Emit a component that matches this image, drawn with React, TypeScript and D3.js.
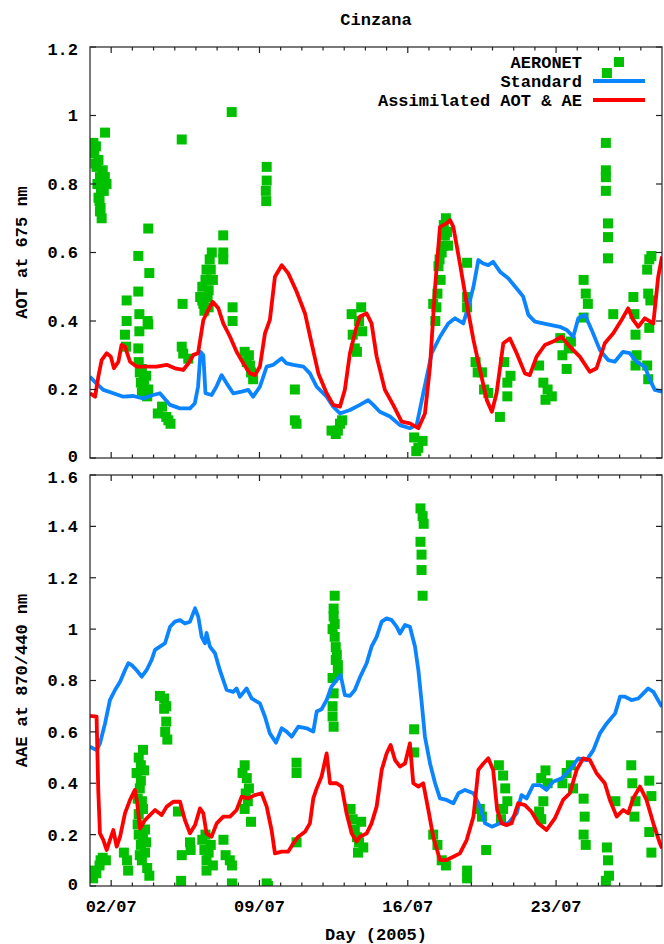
import React from "react";
import * as d3 from "d3";

const TITLE = "Cinzana";
const X_LABEL = "Day (2005)";
const Y_LABEL_TOP = "AOT at 675 nm";
const Y_LABEL_BOTTOM = "AAE at 870/440 nm";
const SERIES_NAMES = ["AERONET", "Standard", "Assimilated AOT & AE"];

const X_MAJOR_DAYS = [2, 9, 16, 23];
const X_TICK_LABELS = ["02/07", "09/07", "16/07", "23/07"];
const TOP_Y_TICKS = [0, 0.2, 0.4, 0.6, 0.8, 1, 1.2];
const BOTTOM_Y_TICKS = [0, 0.2, 0.4, 0.6, 0.8, 1, 1.2, 1.4, 1.6];

// [day of July, value]
const aotStandard: [number, number][] = [
  [1.0,0.237],[1.3,0.218],[1.63,0.199],[2.1,0.189],[2.57,0.179],[3.04,0.181],[3.5,0.174],[3.99,0.184],[4.3,0.189],[4.78,0.155],[5.25,0.145],[5.72,0.145],[5.95,0.16],[6.1,0.208],[6.22,0.31],[6.35,0.30],[6.45,0.189],[6.74,0.184],[6.98,0.21],[7.21,0.242],[7.45,0.218],[7.76,0.189],[8.16,0.194],[8.47,0.199],[8.7,0.179],[9.02,0.208],[9.34,0.267],[9.65,0.272],[10.05,0.291],[10.28,0.276],[10.6,0.272],[11.07,0.267],[11.38,0.247],[11.7,0.208],[12.17,0.179],[12.48,0.15],[12.8,0.13],[13.27,0.14],[13.74,0.155],[14.13,0.169],[14.37,0.155],[14.68,0.135],[15.16,0.121],[15.63,0.096],[16.1,0.087],[16.42,0.096],[16.73,0.189],[17.13,0.306],[17.52,0.354],[17.91,0.393],[18.23,0.408],[18.62,0.393],[18.86,0.442],[19.1,0.5],[19.33,0.578],[19.56,0.568],[19.8,0.563],[20.03,0.573],[20.35,0.544],[20.74,0.525],[21.14,0.495],[21.45,0.471],[21.69,0.418],[22.0,0.398],[22.55,0.391],[23.18,0.383],[23.5,0.374],[23.81,0.354],[24.05,0.408],[24.36,0.418],[24.68,0.374],[25.07,0.315],[25.46,0.286],[25.77,0.281],[26.16,0.31],[26.48,0.306],[26.79,0.281],[27.19,0.267],[27.43,0.228],[27.66,0.199],[28.0,0.194]
];

const aotAssimilated: [number, number][] = [
  [1.0,0.189],[1.24,0.179],[1.4,0.24],[1.55,0.286],[1.79,0.306],[1.98,0.296],[2.13,0.262],[2.34,0.281],[2.49,0.33],[2.65,0.325],[2.89,0.281],[3.2,0.267],[3.67,0.267],[4.15,0.267],[4.62,0.272],[5.01,0.262],[5.4,0.257],[5.64,0.276],[5.88,0.301],[6.1,0.306],[6.35,0.403],[6.58,0.432],[6.79,0.456],[7.06,0.437],[7.29,0.393],[7.61,0.354],[7.92,0.31],[8.24,0.276],[8.55,0.247],[8.79,0.242],[9.02,0.267],[9.26,0.364],[9.49,0.403],[9.73,0.529],[10.05,0.563],[10.36,0.539],[10.75,0.486],[11.15,0.422],[11.46,0.335],[11.78,0.247],[12.17,0.189],[12.48,0.155],[12.8,0.15],[13.03,0.199],[13.27,0.306],[13.58,0.383],[13.74,0.413],[14.06,0.422],[14.29,0.393],[14.53,0.296],[14.92,0.199],[15.31,0.155],[15.71,0.106],[16.1,0.101],[16.5,0.087],[16.81,0.13],[17.05,0.267],[17.29,0.5],[17.52,0.675],[17.83,0.685],[17.99,0.695],[18.15,0.675],[18.46,0.568],[18.78,0.452],[19.1,0.345],[19.41,0.257],[19.73,0.169],[19.97,0.135],[20.19,0.189],[20.51,0.335],[20.82,0.349],[21.14,0.306],[21.53,0.247],[21.76,0.242],[22.08,0.296],[22.47,0.33],[22.86,0.34],[23.26,0.354],[23.65,0.325],[24.12,0.296],[24.59,0.252],[24.91,0.262],[25.3,0.335],[25.7,0.364],[26.09,0.403],[26.4,0.437],[26.64,0.403],[26.88,0.383],[27.19,0.408],[27.59,0.393],[27.82,0.529],[28.0,0.588]
];

const aotAeronet: [number, number][] = [
  [1.16,0.92],[1.2,0.89],[1.31,0.85],[1.28,0.91],[1.4,0.87],[1.47,0.82],[1.52,0.78],[1.45,0.75],[1.47,0.72],[1.71,0.95],[1.78,0.8],[1.6,0.84],
  [1.25,0.86],[1.35,0.8],[1.4,0.76],[1.5,0.73],[1.55,0.7],[1.65,0.78],[1.7,0.82],[1.1,0.9],
  [2.73,0.46],[2.73,0.4],[2.65,0.36],[2.7,0.325],
  [3.28,0.59],[3.28,0.486],[3.75,0.67],[3.8,0.54],[3.33,0.42],[3.75,0.39],[3.33,0.37],[3.28,0.32],[3.35,0.25],[3.4,0.22],[3.45,0.19],[3.6,0.2],[3.7,0.18],[3.55,0.23],[3.72,0.4],
  [3.3,0.28],[3.5,0.21],[3.65,0.24],[3.75,0.2],[3.45,0.26],
  [4.2,0.13],[4.4,0.15],[4.6,0.12],[4.8,0.1],[4.7,0.11],
  [5.33,0.93],[5.37,0.45],[5.33,0.325],[5.4,0.305],[5.64,0.29],
  [6.2,0.47],[6.3,0.5],[6.35,0.45],[6.5,0.55],[6.65,0.58],[6.75,0.6],[6.8,0.52],[6.6,0.49],[6.4,0.43],
  [6.45,0.52],[6.55,0.47],[6.7,0.55],[6.6,0.44],[6.3,0.46],
  [7.29,0.65],[7.29,0.58],[7.29,0.6],[7.73,0.44],[7.73,0.4],[7.69,1.01],
  [8.3,0.31],[8.4,0.28],[8.5,0.3],[8.6,0.25],[8.7,0.23],[8.55,0.27],
  [9.34,0.85],[9.34,0.81],[9.3,0.78],[9.32,0.75],
  [10.67,0.2],[10.67,0.11],[10.75,0.1],
  [12.4,0.08],[12.6,0.07],[12.8,0.1],[12.9,0.11],[12.7,0.08],
  [13.35,0.42],[13.4,0.36],[13.5,0.32],[13.6,0.31],[13.7,0.4],[13.8,0.44],[13.85,0.37],
  [16.3,0.06],[16.5,0.03],[16.7,0.05],[16.4,0.02],
  [17.2,0.45],[17.3,0.4],[17.4,0.48],[17.45,0.56],[17.55,0.52],[17.6,0.6],[17.75,0.65],[17.8,0.7],[17.9,0.62],[17.7,0.68],
  [17.35,0.44],[17.5,0.58],[17.65,0.62],[17.85,0.66],
  [18.8,0.57],[18.8,0.47],[18.8,0.44],
  [19.2,0.28],[19.3,0.25],[19.5,0.25],[19.6,0.2],[19.8,0.19],
  [20.35,0.12],[20.55,0.28],[20.7,0.22],[20.85,0.24],[20.7,0.18],
  [22.2,0.27],[22.4,0.22],[22.6,0.2],[22.8,0.18],[22.5,0.17],
  [23.2,0.35],[23.3,0.3],[23.5,0.26],[23.6,0.32],[23.7,0.34],
  [24.3,0.52],[24.4,0.48],[24.5,0.45],[24.3,0.41],
  [25.35,0.92],[25.35,0.84],[25.35,0.82],[25.35,0.78],[25.45,0.685],[25.45,0.645],[25.45,0.583],[25.4,1.124],[25.7,0.42],
  [26.65,0.47],[26.7,0.42],[26.75,0.36],[26.8,0.3],[26.75,0.27],
  [27.3,0.55],[27.4,0.58],[27.5,0.59],[27.35,0.48],[27.4,0.38],[27.3,0.27],[27.35,0.23],[27.45,0.46]
];

const aaeStandard: [number, number][] = [
  [1.0,0.542],[1.31,0.529],[1.47,0.555],[1.71,0.633],[1.94,0.724],[2.18,0.763],[2.42,0.795],[2.65,0.84],[2.81,0.867],[2.97,0.86],[3.2,0.84],[3.44,0.815],[3.67,0.84],[3.91,0.88],[4.07,0.919],[4.3,0.932],[4.54,0.945],[4.78,1.009],[5.01,1.029],[5.25,1.035],[5.48,1.022],[5.72,1.029],[5.96,1.081],[6.11,1.048],[6.27,0.97],[6.43,0.945],[6.5,0.985],[6.66,0.932],[6.9,0.906],[7.13,0.84],[7.45,0.763],[7.76,0.756],[7.92,0.769],[8.08,0.737],[8.39,0.769],[8.63,0.73],[9.02,0.711],[9.26,0.659],[9.49,0.594],[9.78,0.558],[10.05,0.614],[10.28,0.601],[10.52,0.581],[10.83,0.62],[11.23,0.614],[11.54,0.601],[11.7,0.679],[11.93,0.688],[12.17,0.724],[12.4,0.776],[12.64,0.802],[12.83,0.821],[13.03,0.743],[13.27,0.74],[13.5,0.763],[13.74,0.812],[14.06,0.867],[14.29,0.932],[14.53,0.97],[14.77,1.029],[15.0,1.042],[15.24,1.035],[15.48,1.009],[15.63,0.983],[15.87,1.016],[16.1,1.009],[16.34,0.932],[16.5,0.84],[16.66,0.711],[16.81,0.581],[17.05,0.477],[17.29,0.4],[17.52,0.341],[17.83,0.335],[18.15,0.322],[18.39,0.361],[18.7,0.374],[19.1,0.361],[19.41,0.309],[19.65,0.244],[19.97,0.231],[20.35,0.244],[20.74,0.244],[21.14,0.283],[21.37,0.354],[21.61,0.341],[21.92,0.393],[22.24,0.393],[22.55,0.374],[22.86,0.406],[23.26,0.419],[23.65,0.452],[24.05,0.497],[24.44,0.49],[24.76,0.529],[25.07,0.594],[25.39,0.633],[25.79,0.672],[26.02,0.737],[26.25,0.737],[26.56,0.724],[26.88,0.73],[27.12,0.75],[27.35,0.769],[27.59,0.756],[27.9,0.711],[28.0,0.698]
];

const aaeAssimilated: [number, number][] = [
  [1.0,0.662],[1.31,0.659],[1.39,0.374],[1.47,0.205],[1.63,0.179],[1.79,0.14],[1.94,0.179],[2.1,0.218],[2.26,0.153],[2.42,0.192],[2.65,0.283],[2.89,0.335],[3.12,0.374],[3.23,0.322],[3.36,0.224],[3.6,0.257],[3.83,0.276],[4.07,0.296],[4.38,0.276],[4.62,0.309],[4.93,0.328],[5.25,0.328],[5.48,0.257],[5.72,0.205],[5.96,0.237],[6.19,0.302],[6.35,0.283],[6.5,0.205],[6.74,0.192],[6.98,0.244],[7.29,0.27],[7.61,0.27],[7.92,0.296],[8.16,0.348],[8.47,0.341],[8.79,0.354],[9.1,0.361],[9.34,0.309],[9.57,0.218],[9.73,0.127],[10.05,0.134],[10.36,0.134],[10.6,0.166],[10.83,0.192],[11.15,0.211],[11.38,0.244],[11.54,0.341],[11.7,0.38],[11.93,0.426],[12.17,0.516],[12.33,0.4],[12.64,0.4],[12.88,0.387],[13.11,0.283],[13.35,0.205],[13.58,0.173],[13.74,0.192],[14.06,0.205],[14.29,0.244],[14.53,0.309],[14.77,0.452],[15.0,0.516],[15.19,0.549],[15.4,0.49],[15.63,0.465],[15.87,0.477],[16.1,0.555],[16.26,0.4],[16.5,0.387],[16.73,0.4],[16.97,0.296],[17.2,0.192],[17.52,0.101],[17.83,0.101],[18.15,0.114],[18.46,0.127],[18.78,0.179],[19.1,0.27],[19.33,0.452],[19.57,0.477],[19.8,0.497],[20.03,0.452],[20.22,0.296],[20.43,0.244],[20.66,0.237],[20.9,0.244],[21.21,0.322],[21.53,0.315],[21.84,0.289],[22.16,0.244],[22.55,0.218],[22.94,0.263],[23.33,0.335],[23.65,0.361],[23.97,0.452],[24.28,0.497],[24.6,0.49],[24.91,0.439],[25.3,0.4],[25.54,0.335],[25.86,0.27],[26.17,0.296],[26.4,0.283],[26.64,0.341],[26.96,0.387],[27.27,0.335],[27.59,0.244],[27.9,0.166],[28.0,0.147]
];

const aaeAeronet: [number, number][] = [
  [1.15,0.03],[1.3,0.05],[1.45,0.08],[1.6,0.11],[1.75,0.1],[1.2,0.06],[1.5,0.1],
  [2.6,0.13],[2.75,0.1],[2.8,0.06],
  [3.2,0.44],[3.3,0.5],[3.4,0.47],[3.5,0.53],[3.35,0.38],[3.45,0.33],[3.3,0.28],[3.25,0.24],[3.3,0.2],[3.4,0.16],[3.5,0.19],[3.6,0.13],[3.7,0.07],[3.8,0.04],[3.45,0.1],[3.6,0.22],[3.5,0.3],
  [3.25,0.34],[3.4,0.41],[3.55,0.45],[3.35,0.12],[3.65,0.17],
  [4.3,0.74],[4.5,0.73],[4.5,0.69],[4.6,0.64],[4.55,0.6],[4.65,0.57],[4.6,0.7],
  [5.15,0.29],[5.33,0.12],[5.3,0.02],[5.72,0.17],[5.75,0.14],
  [6.3,0.18],[6.4,0.14],[6.5,0.1],[6.6,0.13],[6.7,0.16],[6.8,0.08],[6.5,0.06],[6.45,0.2],
  [7.3,0.18],[7.4,0.12],[7.6,0.1],[7.7,0.08],[7.7,0.01],
  [8.2,0.44],[8.3,0.47],[8.4,0.42],[8.5,0.38],[8.45,0.33],[8.3,0.3],[8.6,0.25],[8.35,0.36],
  [9.34,0.01],[9.4,0.0],
  [10.75,0.48],[10.75,0.44],[10.75,0.17],
  [12.55,1.13],[12.5,1.08],[12.5,1.05],[12.45,1.0],[12.55,0.97],[12.6,0.93],[12.65,0.9],[12.7,0.86],[12.7,0.83],[12.45,0.81],[12.45,0.7],[12.45,0.66],[12.5,0.62],
  [12.5,0.75],[12.6,0.88],[12.55,1.02],
  [13.3,0.3],[13.4,0.26],[13.5,0.22],[13.6,0.19],[13.7,0.17],[13.65,0.13],[13.8,0.25],[13.9,0.15],
  [16.6,1.47],[16.7,1.44],[16.75,1.41],[16.6,1.34],[16.65,1.29],[16.65,1.23],[16.7,1.13],[16.3,0.61],[16.3,0.52],
  [17.2,0.2],[17.4,0.16],[17.6,0.1],[17.8,0.08],
  [18.8,0.06],[18.8,0.03],
  [19.4,0.3],[19.5,0.27],[19.7,0.14],
  [20.3,0.47],[20.5,0.43],[20.6,0.38],[20.7,0.33],[20.5,0.3],[20.4,0.26],
  [22.3,0.42],[22.5,0.45],[22.6,0.4],[22.4,0.33],[22.2,0.29],[22.3,0.26],
  [23.3,0.4],[23.5,0.44],[23.7,0.47],[23.8,0.38],
  [24.3,0.34],[24.35,0.27],[24.3,0.2],[24.4,0.16],
  [25.4,0.15],[25.45,0.1],[25.5,0.04],[25.35,0.02],[25.8,0.33],
  [26.55,0.47],[26.6,0.4],[26.75,0.33],[26.7,0.27],
  [27.4,0.41],[27.5,0.35],[27.4,0.21],[27.5,0.13]
];

const GREEN = "#00c000";
const BLUE = "#0a84ff";
const RED = "#ff0000";
const FONT = "'Liberation Mono', 'DejaVu Sans Mono', monospace";
const FS = 17;

const LEFT = 90;
const RIGHT = 662;
const TOP_PANEL = { top: 47, bottom: 458 };
const BOTTOM_PANEL = { top: 475, bottom: 886 };

const x = d3.scaleLinear().domain([1, 28]).range([LEFT, RIGHT]);
const allDays = d3.range(2, 28);

function Panel({ top, bottom, yMax, yTicks, aeronet, standard, assimilated, id, label, showXLabels, labelShift }: any) {
  const y = d3.scaleLinear().domain([0, yMax]).range([bottom, top]);
  const line = d3.line<[number, number]>().x((d) => x(d[0])).y((d) => y(d[1]));
  const sq = 10;
  return (
    <g>
      <defs>
        <clipPath id={id}>
          <rect x={LEFT} y={top} width={RIGHT - LEFT} height={bottom - top} />
        </clipPath>
      </defs>
      <g clipPath={`url(#${id})`}>
        {aeronet.map((d: [number, number], i: number) => (
          <rect key={i} x={x(d[0]) - sq / 2} y={y(d[1]) - sq / 2} width={sq} height={sq} fill={GREEN} />
        ))}
        <path d={line(standard) || ""} fill="none" stroke={BLUE} strokeWidth={3.8} strokeLinejoin="round" />
        <path d={line(assimilated) || ""} fill="none" stroke={RED} strokeWidth={3.8} strokeLinejoin="round" />
      </g>
      <rect x={LEFT} y={top} width={RIGHT - LEFT} height={bottom - top} fill="none" stroke="#222" strokeWidth={1.2} />
      {allDays.map((d) => {
        const major = X_MAJOR_DAYS.includes(d);
        const len = major ? 6 : 3.5;
        return (
          <g key={d} stroke="#222" strokeWidth={1.2}>
            <line x1={x(d)} x2={x(d)} y1={bottom} y2={bottom - len} />
            <line x1={x(d)} x2={x(d)} y1={top} y2={top + len} />
          </g>
        );
      })}
      {yTicks.map((t: number) => (
        <g key={t}>
          <line x1={LEFT} x2={LEFT + 6} y1={y(t)} y2={y(t)} stroke="#222" strokeWidth={1.2} />
          <line x1={RIGHT} x2={RIGHT - 6} y1={y(t)} y2={y(t)} stroke="#222" strokeWidth={1.2} />
          <text
            x={78}
            y={y(t) + (t === 0 ? -labelShift : t === yMax ? labelShift : 0)}
            dy="0.35em"
            textAnchor="end"
            fontFamily={FONT}
            fontWeight="bold"
            fontSize={FS}
          >
            {String(t)}
          </text>
        </g>
      ))}
      <text
        transform={`translate(21, ${(top + bottom) / 2}) rotate(-90)`}
        textAnchor="middle"
        dy="0.35em"
        fontFamily={FONT}
        fontWeight="bold"
        fontSize={FS}
      >
        {label}
      </text>
      {showXLabels &&
        X_MAJOR_DAYS.map((d, i) => (
          <text key={d} x={x(d)} y={bottom + 20} dy="0.35em" textAnchor="middle" fontFamily={FONT} fontWeight="bold" fontSize={FS}>
            {X_TICK_LABELS[i]}
          </text>
        ))}
    </g>
  );
}

export default function App() {
  const legendRows = [62, 81, 100];
  return (
    <svg width={664} height={944} style={{ position: "absolute", left: 0, top: 0, background: "#fff" }}>
      <rect width={664} height={944} fill="#fff" />
      <text x={376} y={19} dy="0.35em" textAnchor="middle" fontFamily={FONT} fontWeight="bold" fontSize={FS}>
        {TITLE}
      </text>
      <Panel
        id="clipTop"
        top={TOP_PANEL.top}
        bottom={TOP_PANEL.bottom}
        yMax={1.2}
        yTicks={TOP_Y_TICKS}
        aeronet={aotAeronet}
        standard={aotStandard}
        assimilated={aotAssimilated}
        label={Y_LABEL_TOP}
        showXLabels={false}
        labelShift={2}
      />
      <Panel
        id="clipBottom"
        top={BOTTOM_PANEL.top}
        bottom={BOTTOM_PANEL.bottom}
        yMax={1.6}
        yTicks={BOTTOM_Y_TICKS}
        aeronet={aaeAeronet}
        standard={aaeStandard}
        assimilated={aaeAssimilated}
        label={Y_LABEL_BOTTOM}
        showXLabels={true}
        labelShift={2}
      />
      <text x={376} y={934} dy="0.35em" textAnchor="middle" fontFamily={FONT} fontWeight="bold" fontSize={FS}>
        {X_LABEL}
      </text>
      {SERIES_NAMES.map((name, i) => (
        <text key={name} x={582} y={legendRows[i]} dy="0.35em" textAnchor="end" fontFamily={FONT} fontWeight="bold" fontSize={FS}>
          {name}
        </text>
      ))}
      <rect x={619 - 5} y={legendRows[0] - 5} width={10} height={10} fill={GREEN} />
      <line x1={593} x2={645} y1={legendRows[1]} y2={legendRows[1]} stroke={BLUE} strokeWidth={3.8} />
      <line x1={593} x2={645} y1={legendRows[2]} y2={legendRows[2]} stroke={RED} strokeWidth={3.8} />
    </svg>
  );
}
